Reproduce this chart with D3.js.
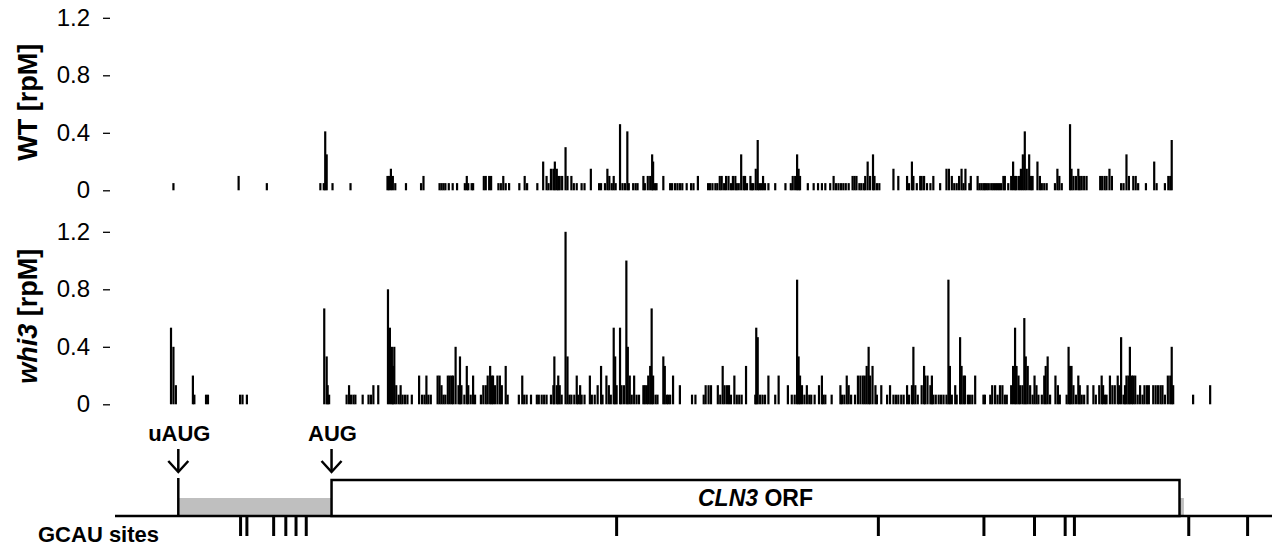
<!DOCTYPE html>
<html>
<head>
<meta charset="utf-8">
<script src="https://cdn.jsdelivr.net/npm/d3@7"></script>
<style>
  body { margin: 0; background: #fff; }
  text { font-family: "Liberation Sans", Arial, sans-serif; fill: #000; }
</style>
</head>
<body>
<svg id="chart" width="1272" height="546"></svg>
<script>
// positions are nt relative to the CLN3 AUG (A = 0), values in rpM
var wtReads = [[-325,0.05],[-191,0.1],[-133,0.05],[-23,0.05],[-16,0.05],[-13,0.41],[-10,0.25],[2,0.05],[39,0.05],[115,0.1],[118,0.1],[122,0.15],[126,0.1],[131,0.05],[153,0.05],[184,0.05],[189,0.1],
  [222,0.05],[226,0.05],[230,0.05],[234,0.05],[241,0.05],[249,0.05],[258,0.05],[274,0.05],[278,0.1],[281,0.05],[288,0.05],[291,0.05],[313,0.1],[317,0.1],[324,0.1],[328,0.1],[343,0.05],[348,0.05],[353,0.1],[358,0.05],[365,0.05],[386,0.05],[397,0.1],[402,0.05],[423,0.05],[435,0.2],[442,0.1],[446,0.05],[451,0.15],[456,0.15],[459,0.2],[463,0.15],[466,0.1],[469,0.1],[474,0.1],[481,0.3],[485,0.1],[493,0.1],[498,0.05],[504,0.05],[514,0.05],[520,0.05],[533,0.15],[550,0.05],[554,0.05],[562,0.05],[567,0.15],[571,0.1],[576,0.05],[580,0.1],[584,0.05],[593,0.46],[598,0.05],[603,0.05],[608,0.41],[611,0.05],[620,0.05],[625,0.05],[629,0.05],[641,0.1],[644,0.05],[650,0.1],[655,0.1],[659,0.25],[661,0.2],[665,0.05],[668,0.05],[682,0.1],[696,0.05],[700,0.05],[706,0.05],[711,0.05],[716,0.05],[721,0.05],
  [730,0.05],[739,0.05],[744,0.05],[753,0.1],[774,0.05],[778,0.05],[783,0.05],[789,0.05],[793,0.05],[798,0.1],[802,0.1],[807,0.05],[811,0.1],[816,0.1],[821,0.05],[825,0.1],[830,0.1],[833,0.05],[837,0.05],[842,0.25],[847,0.1],[850,0.1],[854,0.05],[861,0.1],[864,0.05],[867,0.05],[872,0.15],[876,0.35],[879,0.05],[883,0.05],[887,0.1],[891,0.05],[898,0.05],[912,0.05],[933,0.05],[944,0.05],[948,0.1],[953,0.1],[957,0.25],[960,0.15],[963,0.1],[979,0.05],[991,0.05],[1000,0.05],[1008,0.05],[1015,0.05],[1025,0.05],[1032,0.1],[1037,0.05],[1042,0.05],[1047,0.05],[1052,0.05],[1057,0.05],[1063,0.05],[1071,0.1],[1075,0.1],[1079,0.1],[1085,0.05],[1089,0.05],[1094,0.05],[1097,0.1],[1102,0.2],[1107,0.1],[1113,0.25],[1116,0.1],[1121,0.05],[1126,0.05],[1155,0.15],[1165,0.1],[1183,0.1],[1187,0.05],[1193,0.2],[1196,0.1],[1203,0.05],[1210,0.1],[1213,0.1],[1218,0.1],[1224,0.05],[1231,0.05],[1237,0.1],[1251,0.05],
  [1264,0.15],[1269,0.15],[1275,0.1],[1280,0.05],[1285,0.05],[1290,0.1],[1295,0.15],[1299,0.05],[1303,0.15],[1311,0.05],[1314,0.1],[1328,0.1],[1332,0.05],[1336,0.05],[1340,0.05],[1343,0.05],[1347,0.05],[1351,0.05],[1356,0.05],[1360,0.05],[1364,0.05],[1368,0.05],[1372,0.05],[1376,0.05],[1381,0.1],[1384,0.1],[1391,0.05],[1397,0.1],[1401,0.2],[1405,0.1],[1408,0.1],[1413,0.1],[1417,0.15],[1421,0.25],[1425,0.41],[1429,0.15],[1434,0.25],[1438,0.1],[1441,0.1],[1451,0.2],[1456,0.1],[1460,0.05],[1465,0.05],[1470,0.05],[1487,0.05],[1492,0.15],[1496,0.1],[1501,0.05],[1518,0.46],[1521,0.15],[1525,0.1],[1530,0.1],[1535,0.15],[1538,0.1],[1542,0.1],[1547,0.1],[1552,0.1],[1580,0.1],[1584,0.1],[1589,0.1],[1593,0.1],[1599,0.15],[1604,0.1],[1623,0.05],[1628,0.05],[1634,0.25],[1639,0.1],[1648,0.1],[1653,0.1],[1658,0.05],[1674,0.05],[1691,0.2],[1696,0.05],[1713,0.05],[1720,0.1],[1724,0.1],[1727,0.35]];

var whi3Reads = [[-330,0.533],[-325,0.4],[-320,0.133],[-285,0.2],[-282,0.067],[-258,0.067],[-254,0.067],[-188,0.067],[-183,0.067],[-174,0.067],[-15,0.667],[-10,0.333],[-8,0.133],[-5,0.067],[31,0.067],[36,0.133],[40,0.067],[45,0.067],[49,0.067],[64,0.067],[76,0.067],[81,0.067],[86,0.133],[96,0.133],[116,0.8],[120,0.533],[124,0.4],[126,0.267],[129,0.4],[133,0.133],[138,0.067],[142,0.133],[146,0.067],[151,0.067],[156,0.067],[165,0.067],[180,0.2],[186,0.067],[191,0.067],
  [195,0.2],[199,0.067],[204,0.067],[218,0.2],[222,0.2],[226,0.133],[230,0.067],[234,0.067],[239,0.2],[243,0.2],[247,0.2],[250,0.2],[255,0.4],[261,0.133],[264,0.333],[267,0.133],[273,0.067],[278,0.267],[281,0.133],[286,0.067],[291,0.2],[295,0.067],[307,0.067],[312,0.133],[317,0.133],[321,0.2],[326,0.267],[329,0.2],[332,0.2],[336,0.133],[341,0.2],[346,0.2],[350,0.133],[358,0.267],[362,0.067],[385,0.067],[392,0.2],[396,0.067],[401,0.067],[410,0.067],[422,0.067],[426,0.067],[432,0.067],[437,0.067],[442,0.067],[451,0.067],[456,0.133],[458,0.333],[463,0.133],[466,0.2],[469,0.133],[473,0.067],[481,1.2],[485,0.333],[489,0.067],[493,0.067],[499,0.067],[504,0.2],[507,0.067],[511,0.133],[514,0.067],[520,0.067],[531,0.2],[535,0.067],[541,0.067],[547,0.133],[554,0.267],[557,0.067],[565,0.2],[570,0.133],[574,0.067],[580,0.533],[583,0.333],[586,0.133],[593,0.533],[596,0.133],[601,0.133],[606,1.0],[609,0.4],[613,0.2],[617,0.067],[622,0.2],[627,0.067],[632,0.067],[641,0.133],[644,0.133],[648,0.133],[651,0.2],[655,0.267],[658,0.667],[661,0.2],[666,0.067],[670,0.067],[682,0.333],[685,0.267],[689,0.067],[692,0.067],[696,0.067],[702,0.2],[716,0.133],
  [741,0.067],[748,0.067],[765,0.067],[769,0.133],[775,0.133],[780,0.133],[794,0.133],[799,0.067],[804,0.267],[808,0.133],[813,0.133],[817,0.133],[821,0.067],[828,0.2],[833,0.067],[838,0.067],[843,0.067],[852,0.267],[871,0.067],[873,0.533],[876,0.467],[881,0.067],[886,0.067],[891,0.067],[898,0.2],[912,0.067],[919,0.2],[938,0.133],[946,0.067],[952,0.067],[957,0.867],[960,0.333],[963,0.2],[967,0.133],[972,0.067],[977,0.133],[982,0.067],[986,0.067],[993,0.067],[1002,0.133],[1008,0.2],[1011,0.067],[1015,0.067],[1028,0.067],[1046,0.133],[1049,0.067],[1054,0.067],[1059,0.2],[1063,0.133],[1068,0.067],[1076,0.067],[1082,0.2],[1087,0.2],[1092,0.2],[1096,0.2],[1100,0.267],[1104,0.4],[1107,0.2],[1112,0.267],[1118,0.133],[1121,0.067],[1130,0.133],[1142,0.067],[1148,0.133],[1155,0.067],[1160,0.067],[1165,0.067],[1171,0.067],[1176,0.067],[1183,0.133],[1187,0.067],[1193,0.133],[1196,0.4],[1200,0.133],[1205,0.067],[1213,0.133],[1218,0.267],[1220,0.2],[1225,0.2],[1231,0.133],[1234,0.2],[1237,0.067],[1242,0.067],[1248,0.067],[1253,0.067],[1258,0.067],
  [1264,0.067],[1268,0.867],[1271,0.267],[1275,0.067],[1282,0.133],[1285,0.067],[1292,0.467],[1295,0.267],[1299,0.2],[1302,0.2],[1308,0.067],[1312,0.067],[1317,0.067],[1323,0.2],[1340,0.067],[1343,0.067],[1354,0.067],[1358,0.133],[1364,0.133],[1369,0.067],[1374,0.133],[1379,0.133],[1384,0.067],[1388,0.067],[1397,0.133],[1401,0.267],[1405,0.533],[1408,0.267],[1412,0.2],[1415,0.133],[1420,0.133],[1424,0.6],[1427,0.333],[1431,0.267],[1436,0.133],[1441,0.067],[1445,0.2],[1449,0.133],[1453,0.067],[1460,0.067],[1465,0.2],[1468,0.267],[1472,0.333],[1477,0.067],[1488,0.2],[1493,0.133],[1497,0.067],[1511,0.067],[1515,0.4],[1518,0.267],[1521,0.267],[1525,0.133],[1530,0.067],[1535,0.2],[1538,0.133],[1542,0.067],[1547,0.067],[1554,0.133],[1566,0.133],[1571,0.067],[1578,0.133],[1583,0.2],[1586,0.133],[1590,0.067],[1593,0.067],[1600,0.2],[1605,0.133],[1610,0.133],[1616,0.2],[1619,0.133],[1623,0.467],[1628,0.067],[1631,0.133],[1634,0.2],[1638,0.2],[1641,0.4],[1645,0.2],[1648,0.2],[1652,0.2],[1657,0.067],[1662,0.133],[1667,0.067],[1671,0.133],[1676,0.133],[1680,0.133],[1689,0.133],[1694,0.133],[1699,0.133],[1704,0.133],[1708,0.133],[1713,0.067],[1719,0.2],[1724,0.2],[1727,0.4],[1730,0.133],[1771,0.067],[1806,0.133]];

var yTicks = [0, 0.4, 0.8, 1.2];
var gcauSites = [-187, -174, -119, -94, -73, -52, 586, 1124, 1341, 1445, 1508, 1527, 1762, 1883];
var uAUG = -315, AUG = 0, orfEnd = 1743, utr3End = 1752;

var svg = d3.select("#chart");

// nt -> px, from uAUG to ORF end
var x = d3.scaleLinear().domain([uAUG, orfEnd]).range([178.3, 1179.5]);

var panels = [
  {label: "WT", italic: false, data: wtReads, base: 190.3},
  {label: "whi3", italic: true, data: whi3Reads, base: 404.3}
];

panels.forEach(function(p){
  var y = d3.scaleLinear().domain([0, 1.2]).range([p.base, p.base - 172.5]);
  var g = svg.append("g");

  var axis = d3.axisLeft(y)
    .tickValues(yTicks)
    .tickSize(7)
    .tickPadding(13)
    .tickFormat(function(d){ return d === 0 ? "0" : d3.format(".1f")(d) });

  var ax = g.append("g").attr("transform", "translate(110,0)").call(axis);
  ax.select(".domain").remove();
  ax.selectAll(".tick line").attr("stroke", "#000").attr("stroke-width", 1.3);
  ax.selectAll(".tick text")
    .style("font-family", '"Liberation Sans", Arial, sans-serif')
    .style("font-size", "24px")
    .attr("fill", "#000");

  g.selectAll("line.read")
    .data(p.data)
    .enter()
    .append("line")
    .attr("class", "read")
    .attr("x1", function(d){ return x(d[0]) })
    .attr("x2", function(d){ return x(d[0]) })
    .attr("y1", y(0))
    .attr("y2", function(d){ return y(d[1]) })
    .attr("stroke", "#000")
    .attr("stroke-width", 2.2);

  var lab = g.append("text")
    .attr("transform", "translate(37," + (p.base - 88) + ") rotate(-90)")
    .attr("text-anchor", "middle")
    .style("font-size", "27px")
    .style("font-weight", "bold");
  lab.append("tspan").style("font-style", p.italic ? "italic" : "normal").text(p.label);
  lab.append("tspan").text(" [rpM]");
});

// gene model
var gy = 516;
var gene = svg.append("g");

gene.append("rect")
  .attr("x", x(uAUG)).attr("y", gy - 18)
  .attr("width", x(AUG) - x(uAUG)).attr("height", 18)
  .attr("fill", "#bfbfbf");
gene.append("rect")
  .attr("x", x(orfEnd)).attr("y", gy - 18)
  .attr("width", x(utr3End) - x(orfEnd)).attr("height", 18)
  .attr("fill", "#bfbfbf");

gene.append("line")
  .attr("x1", 115).attr("x2", 1272).attr("y1", gy).attr("y2", gy)
  .attr("stroke", "#000").attr("stroke-width", 2.5);

gene.append("line")
  .attr("x1", x(uAUG)).attr("x2", x(uAUG)).attr("y1", gy - 38).attr("y2", gy)
  .attr("stroke", "#000").attr("stroke-width", 2.5);

gene.append("rect")
  .attr("x", x(AUG)).attr("y", gy - 36)
  .attr("width", x(orfEnd) - x(AUG)).attr("height", 36)
  .attr("fill", "#fff").attr("stroke", "#000").attr("stroke-width", 2.5);

var orfText = gene.append("text")
  .attr("x", (x(AUG) + x(orfEnd)) / 2).attr("y", gy - 10)
  .attr("text-anchor", "middle")
  .style("font-size", "23px").style("font-weight", "bold");
orfText.append("tspan").style("font-style", "italic").text("CLN3");
orfText.append("tspan").text(" ORF");

// start codon arrows
[{pos: uAUG, name: "uAUG"}, {pos: AUG, name: "AUG"}].forEach(function(s){
  var cx = x(s.pos);
  gene.append("text")
    .attr("x", cx + 1).attr("y", 441)
    .attr("text-anchor", "middle")
    .style("font-size", "22px").style("font-weight", "bold")
    .text(s.name);
  gene.append("line")
    .attr("x1", cx).attr("x2", cx).attr("y1", 449).attr("y2", 472)
    .attr("stroke", "#000").attr("stroke-width", 2.5);
  gene.append("path")
    .attr("d", "M" + (cx - 10) + ",461L" + cx + ",472L" + (cx + 10) + ",461")
    .attr("fill", "none").attr("stroke", "#000").attr("stroke-width", 2.5);
});

// GCAU sites
gene.selectAll("line.site")
  .data(gcauSites)
  .enter()
  .append("line")
  .attr("class", "site")
  .attr("x1", function(d){ return x(d) })
  .attr("x2", function(d){ return x(d) })
  .attr("y1", gy).attr("y2", gy + 20)
  .attr("stroke", "#000").attr("stroke-width", 3);

gene.append("text")
  .attr("x", 38).attr("y", 542)
  .style("font-size", "22px").style("font-weight", "bold")
  .text("GCAU sites");
</script>
</body>
</html>
